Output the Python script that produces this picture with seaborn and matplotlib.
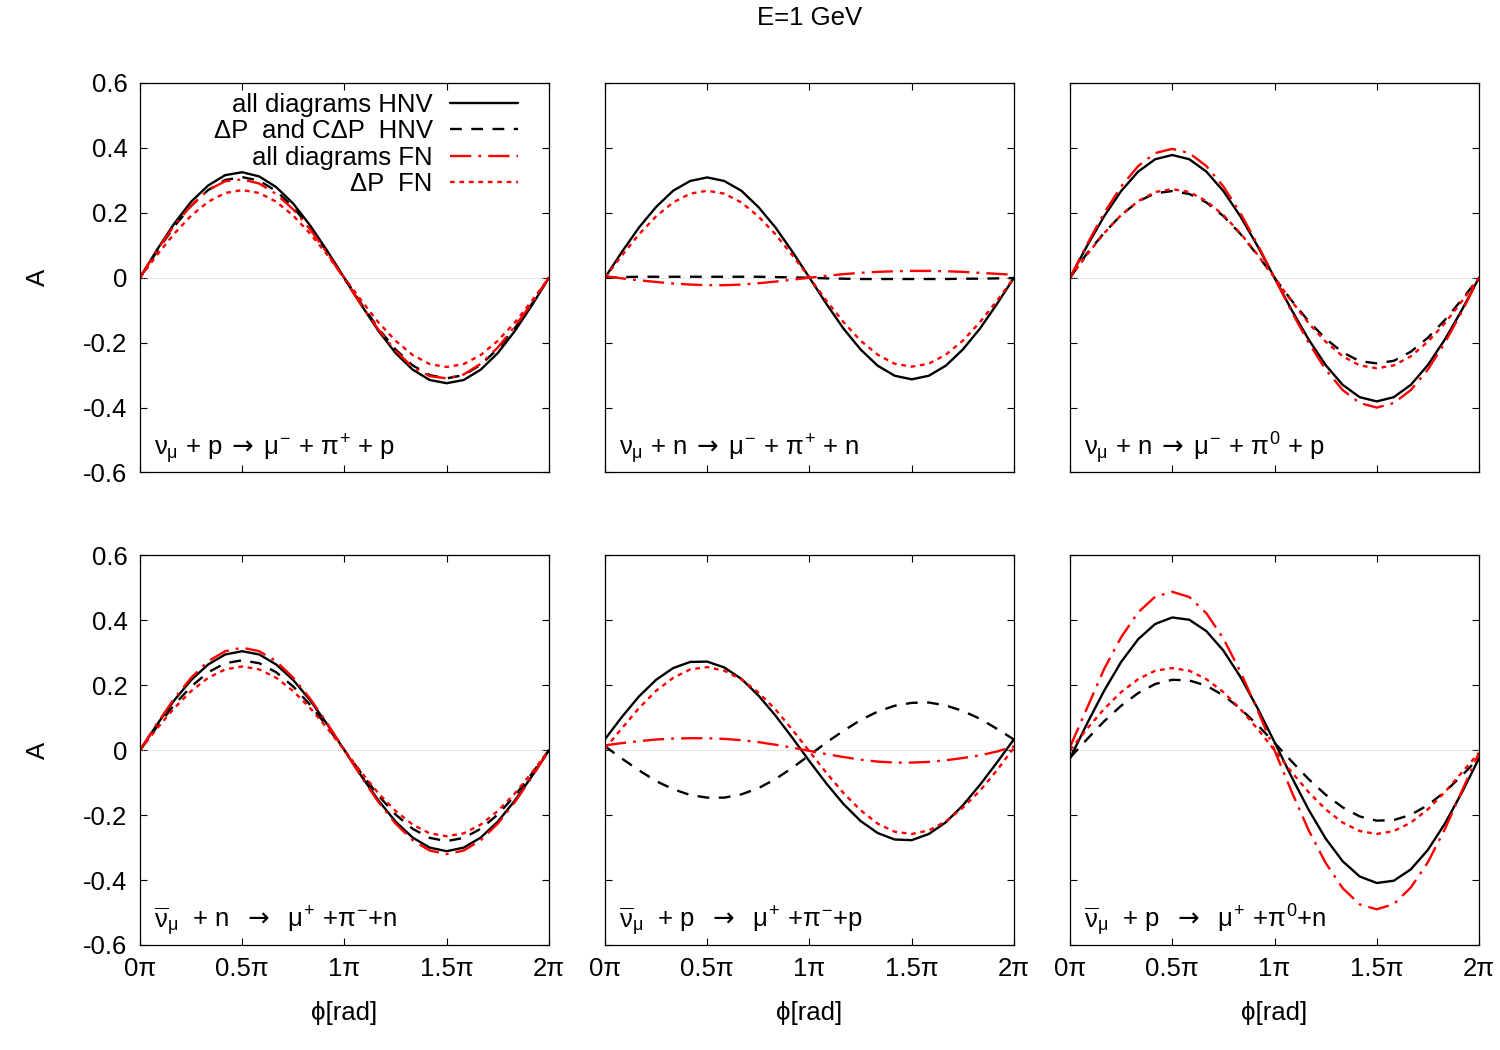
import numpy as np
import seaborn as sns
import matplotlib
matplotlib.use("Agg")
import matplotlib.pyplot as plt

# phi grid in units of pi (step pi/12)
phi = np.linspace(0, 2, 25)

# --- nu_mu + p -> mu- + pi+ + p
p1_all_hnv = [0, .086, .166, .234, .284, .316, .325, .312, .279, .228, .16, .082, -.002,
              -.085, -.164, -.232, -.283, -.315, -.325, -.315, -.283, -.232, -.164, -.085, 0]
p1_dp_hnv = [0, .081, .157, .221, .27, .301, .31, .299, .267, .217, .153, .079, -.001,
             -.081, -.157, -.221, -.27, -.3, -.31, -.3, -.268, -.219, -.155, -.08, 0]
p1_all_fn = [0, .085, .16, .222, .27, .297, .303, .29, .258, .21, .148, .075, -.005,
             -.085, -.16, -.225, -.275, -.303, -.31, -.298, -.265, -.215, -.15, -.078, 0]
p1_dp_fn = [0, .07, .135, .191, .234, .261, .27, .261, .234, .191, .135, .07, 0,
            -.071, -.138, -.194, -.238, -.266, -.275, -.266, -.238, -.194, -.138, -.071, 0]

# --- nu_mu + n -> mu- + pi+ + n
p2_all_hnv = [0, .08, .155, .218, .268, .298, .309, .298, .268, .218, .155, .08, 0,
              -.081, -.157, -.221, -.271, -.302, -.313, -.302, -.271, -.221, -.157, -.081, 0]
p2_dp_hnv = [0, .002, .003, .003, .003, .003, .003, .003, .003, .003, .002, .001, 0,
             -.002, -.003, -.004, -.004, -.004, -.004, -.004, -.004, -.003, -.003, -.002, -.001]
p2_all_fn = [.005, -.002, -.008, -.013, -.018, -.021, -.023, -.023, -.021, -.017, -.012, -.006, 0,
             .006, .011, .015, .018, .02, .021, .021, .02, .018, .015, .012, .009]
p2_dp_fn = [0, .069, .134, .189, .232, .259, .268, .259, .232, .189, .134, .069, 0,
            -.071, -.137, -.194, -.237, -.265, -.274, -.265, -.237, -.194, -.137, -.071, 0]

# --- nu_mu + n -> mu- + pi0 + p
p3_all_hnv = [0, .098, .189, .267, .327, .365, .378, .365, .327, .267, .189, .098, 0,
              -.099, -.19, -.269, -.33, -.368, -.381, -.368, -.33, -.269, -.19, -.099, 0]
p3_dp_hnv = [0, .075, .138, .193, .235, .26, .267, .258, .232, .19, .135, .07, 0,
             -.07, -.134, -.188, -.23, -.257, -.264, -.256, -.228, -.185, -.13, -.067, 0]
p3_all_fn = [0, .103, .199, .281, .344, .384, .397, .384, .344, .281, .199, .103, 0,
             -.104, -.2, -.283, -.346, -.386, -.4, -.386, -.346, -.283, -.2, -.104, 0]
p3_dp_fn = [0, .071, .137, .193, .236, .264, .273, .264, .236, .193, .137, .071, 0,
            -.072, -.14, -.197, -.242, -.27, -.279, -.27, -.242, -.197, -.14, -.072, 0]

# --- anti-nu_mu + n -> mu+ + pi- + n
p4_all_hnv = [0, .079, .153, .216, .264, .295, .305, .295, .264, .216, .153, .079, 0,
              -.08, -.155, -.22, -.269, -.3, -.311, -.3, -.269, -.22, -.155, -.08, 0]
p4_dp_hnv = [0, .072, .139, .196, .24, .268, .277, .268, .24, .196, .139, .072, 0,
             -.072, -.14, -.198, -.242, -.27, -.28, -.27, -.242, -.198, -.14, -.072, 0]
p4_all_fn = [0, .082, .158, .223, .274, .305, .316, .305, .274, .223, .158, .082, 0,
             -.083, -.16, -.226, -.277, -.309, -.32, -.309, -.277, -.226, -.16, -.083, 0]
p4_dp_fn = [0, .067, .129, .182, .223, .249, .258, .249, .223, .182, .129, .067, 0,
            -.069, -.133, -.187, -.229, -.256, -.265, -.256, -.229, -.187, -.133, -.069, 0]

# --- anti-nu_mu + p -> mu+ + pi- + p
p5_all_hnv = [.034, .103, .166, .217, .253, .272, .273, .255, .22, .169, .107, .038, -.034,
              -.103, -.166, -.218, -.255, -.275, -.277, -.258, -.222, -.17, -.107, -.038, .034]
p5_dp_hnv = [.012, -.026, -.062, -.095, -.12, -.138, -.146, -.146, -.136, -.117, -.089, -.054, -.015,
             .024, .06, .093, .119, .137, .146, .147, .138, .121, .097, .066, .033]
p5_all_fn = [.015, .022, .028, .033, .036, .037, .037, .035, .031, .025, .017, .008, -.002,
             -.012, -.021, -.029, -.035, -.038, -.038, -.036, -.031, -.024, -.016, -.004, .012]
p5_dp_fn = [.005, .068, .13, .183, .223, .249, .256, .245, .218, .178, .126, .063, -.004,
            -.07, -.132, -.185, -.226, -.251, -.258, -.247, -.219, -.177, -.125, -.062, .008]

# --- anti-nu_mu + p -> mu+ + pi0 + n
p6_all_hnv = [-.025, .082, .183, .272, .342, .389, .409, .402, .367, .307, .226, .13, .025,
              -.082, -.183, -.272, -.342, -.389, -.409, -.402, -.367, -.307, -.226, -.13, -.025]
p6_dp_hnv = [-.023, .034, .089, .137, .176, .204, .217, .215, .199, .169, .128, .078, .023,
             -.034, -.089, -.137, -.176, -.204, -.217, -.215, -.199, -.169, -.128, -.078, -.023]
p6_all_fn = [.01, .13, .25, .348, .425, .473, .488, .472, .422, .344, .242, .124, 0,
             -.127, -.246, -.347, -.425, -.475, -.49, -.474, -.423, -.345, -.243, -.125, -.008]
p6_dp_fn = [0, .066, .127, .179, .219, .245, .253, .245, .219, .179, .127, .066, 0,
            -.067, -.129, -.182, -.223, -.249, -.258, -.249, -.223, -.182, -.129, -.068, -.008]

panel_titles = [
    r'$\nu_{\mu}$ + p$\;\mathsf{\rightarrow}\;\mu^{-}$ + $\pi^{+}$ + p',
    r'$\nu_{\mu}$ + n$\;\mathsf{\rightarrow}\;\mu^{-}$ + $\pi^{+}$ + n',
    r'$\nu_{\mu}$ + n$\;\mathsf{\rightarrow}\;\mu^{-}$ + $\pi^{0}$ + p',
    r'$\overline{\nu}_{\mu}$  + n  $\mathsf{\rightarrow}$  $\mu^{+}$ +$\pi^{-}$+n',
    r'$\overline{\nu}_{\mu}$  + p  $\mathsf{\rightarrow}$  $\mu^{+}$ +$\pi^{-}$+p',
    r'$\overline{\nu}_{\mu}$  + p  $\mathsf{\rightarrow}$  $\mu^{+}$ +$\pi^{0}$+n',
]
panel_data = [
    (p1_all_hnv, p1_dp_hnv, p1_all_fn, p1_dp_fn),
    (p2_all_hnv, p2_dp_hnv, p2_all_fn, p2_dp_fn),
    (p3_all_hnv, p3_dp_hnv, p3_all_fn, p3_dp_fn),
    (p4_all_hnv, p4_dp_hnv, p4_all_fn, p4_dp_fn),
    (p5_all_hnv, p5_dp_hnv, p5_all_fn, p5_dp_fn),
    (p6_all_hnv, p6_dp_hnv, p6_all_fn, p6_dp_fn),
]
series_labels = ['all diagrams HNV', '\u0394P  and C\u0394P  HNV', 'all diagrams FN', '\u0394P  FN']
series_styles = [
    dict(color='black', linestyle='-'),
    dict(color='black', linestyle=(0, (5, 4))),
    dict(color='red', linestyle=(0, (9, 3, 1.2, 3))),
    dict(color='red', linestyle=(0, (2, 2))),
]
xtick_pos = [0, 0.5, 1, 1.5, 2]
xtick_labels = ['0\u03c0', '0.5\u03c0', '1\u03c0', '1.5\u03c0', '2\u03c0']
ytick_pos = [-0.6, -0.4, -0.2, 0, 0.2, 0.4, 0.6]
ytick_labels = ['-0.6', '-0.4', '-0.2', '0', '0.2', '0.4', '0.6']

sns.set_style('ticks')
plt.rcParams['font.family'] = ['Liberation Sans', 'DejaVu Sans']
plt.rcParams['mathtext.fontset'] = 'custom'
plt.rcParams['mathtext.rm'] = 'Liberation Sans'
plt.rcParams['mathtext.it'] = 'Liberation Sans'
plt.rcParams['mathtext.sf'] = 'DejaVu Sans'
plt.rcParams['mathtext.bf'] = 'Liberation Sans:bold'
plt.rcParams['font.size'] = 18.5
plt.rcParams['text.color'] = 'black'
plt.rcParams['axes.labelcolor'] = 'black'
plt.rcParams['xtick.color'] = 'black'
plt.rcParams['ytick.color'] = 'black'

fig = plt.figure(figsize=(15, 10.5), dpi=100)
axes = fig.subplots(2, 3)
fig.subplots_adjust(left=0.0933, right=0.986, bottom=0.1, top=0.921, wspace=0.137, hspace=0.213)

for i, ax in enumerate(axes.flat):
    ax.axhline(0, color='#aaaaaa', lw=0.6, linestyle=(0, (1, 2)), zorder=1)
    for vals, lab, st in zip(panel_data[i], series_labels, series_styles):
        sns.lineplot(x=phi, y=vals, ax=ax, lw=1.7, label=lab, legend=False,
                     estimator=None, sort=False, **st)
    ax.set_xlim(0, 2)
    ax.set_ylim(-0.6, 0.6)
    ax.set_xticks(xtick_pos)
    ax.set_yticks(ytick_pos)
    ax.tick_params(direction='in', top=True, right=True, length=5, width=0.8,
                   labelsize=18.5, pad=9, color='black')
    for sp in ax.spines.values():
        sp.set_linewidth(0.9)
        sp.set_color('black')
    if i >= 3:
        ax.set_xticklabels(xtick_labels)
        ax.set_xlabel('\u03d5[rad]', fontsize=18.5, labelpad=14)
    else:
        ax.set_xticklabels([])
    if i % 3 == 0:
        ax.set_yticklabels(ytick_labels)
        ax.set_ylabel('A', fontsize=18.5, labelpad=24)
    else:
        ax.set_yticklabels([])
    ax.text(0.035, 0.045, panel_titles[i], transform=ax.transAxes, fontsize=18.5,
            va='baseline', ha='left')

axes[0, 0].legend(loc='upper right', bbox_to_anchor=(0.924, 0.974), frameon=False,
                  markerfirst=False, handlelength=2.65, handletextpad=0.66,
                  labelspacing=0.09, borderpad=0, borderaxespad=0, fontsize=18.5)

fig.text(0.54, 0.983, 'E=1 GeV', ha='center', va='center', fontsize=18.5)

fig.savefig('out.png', dpi=100)
